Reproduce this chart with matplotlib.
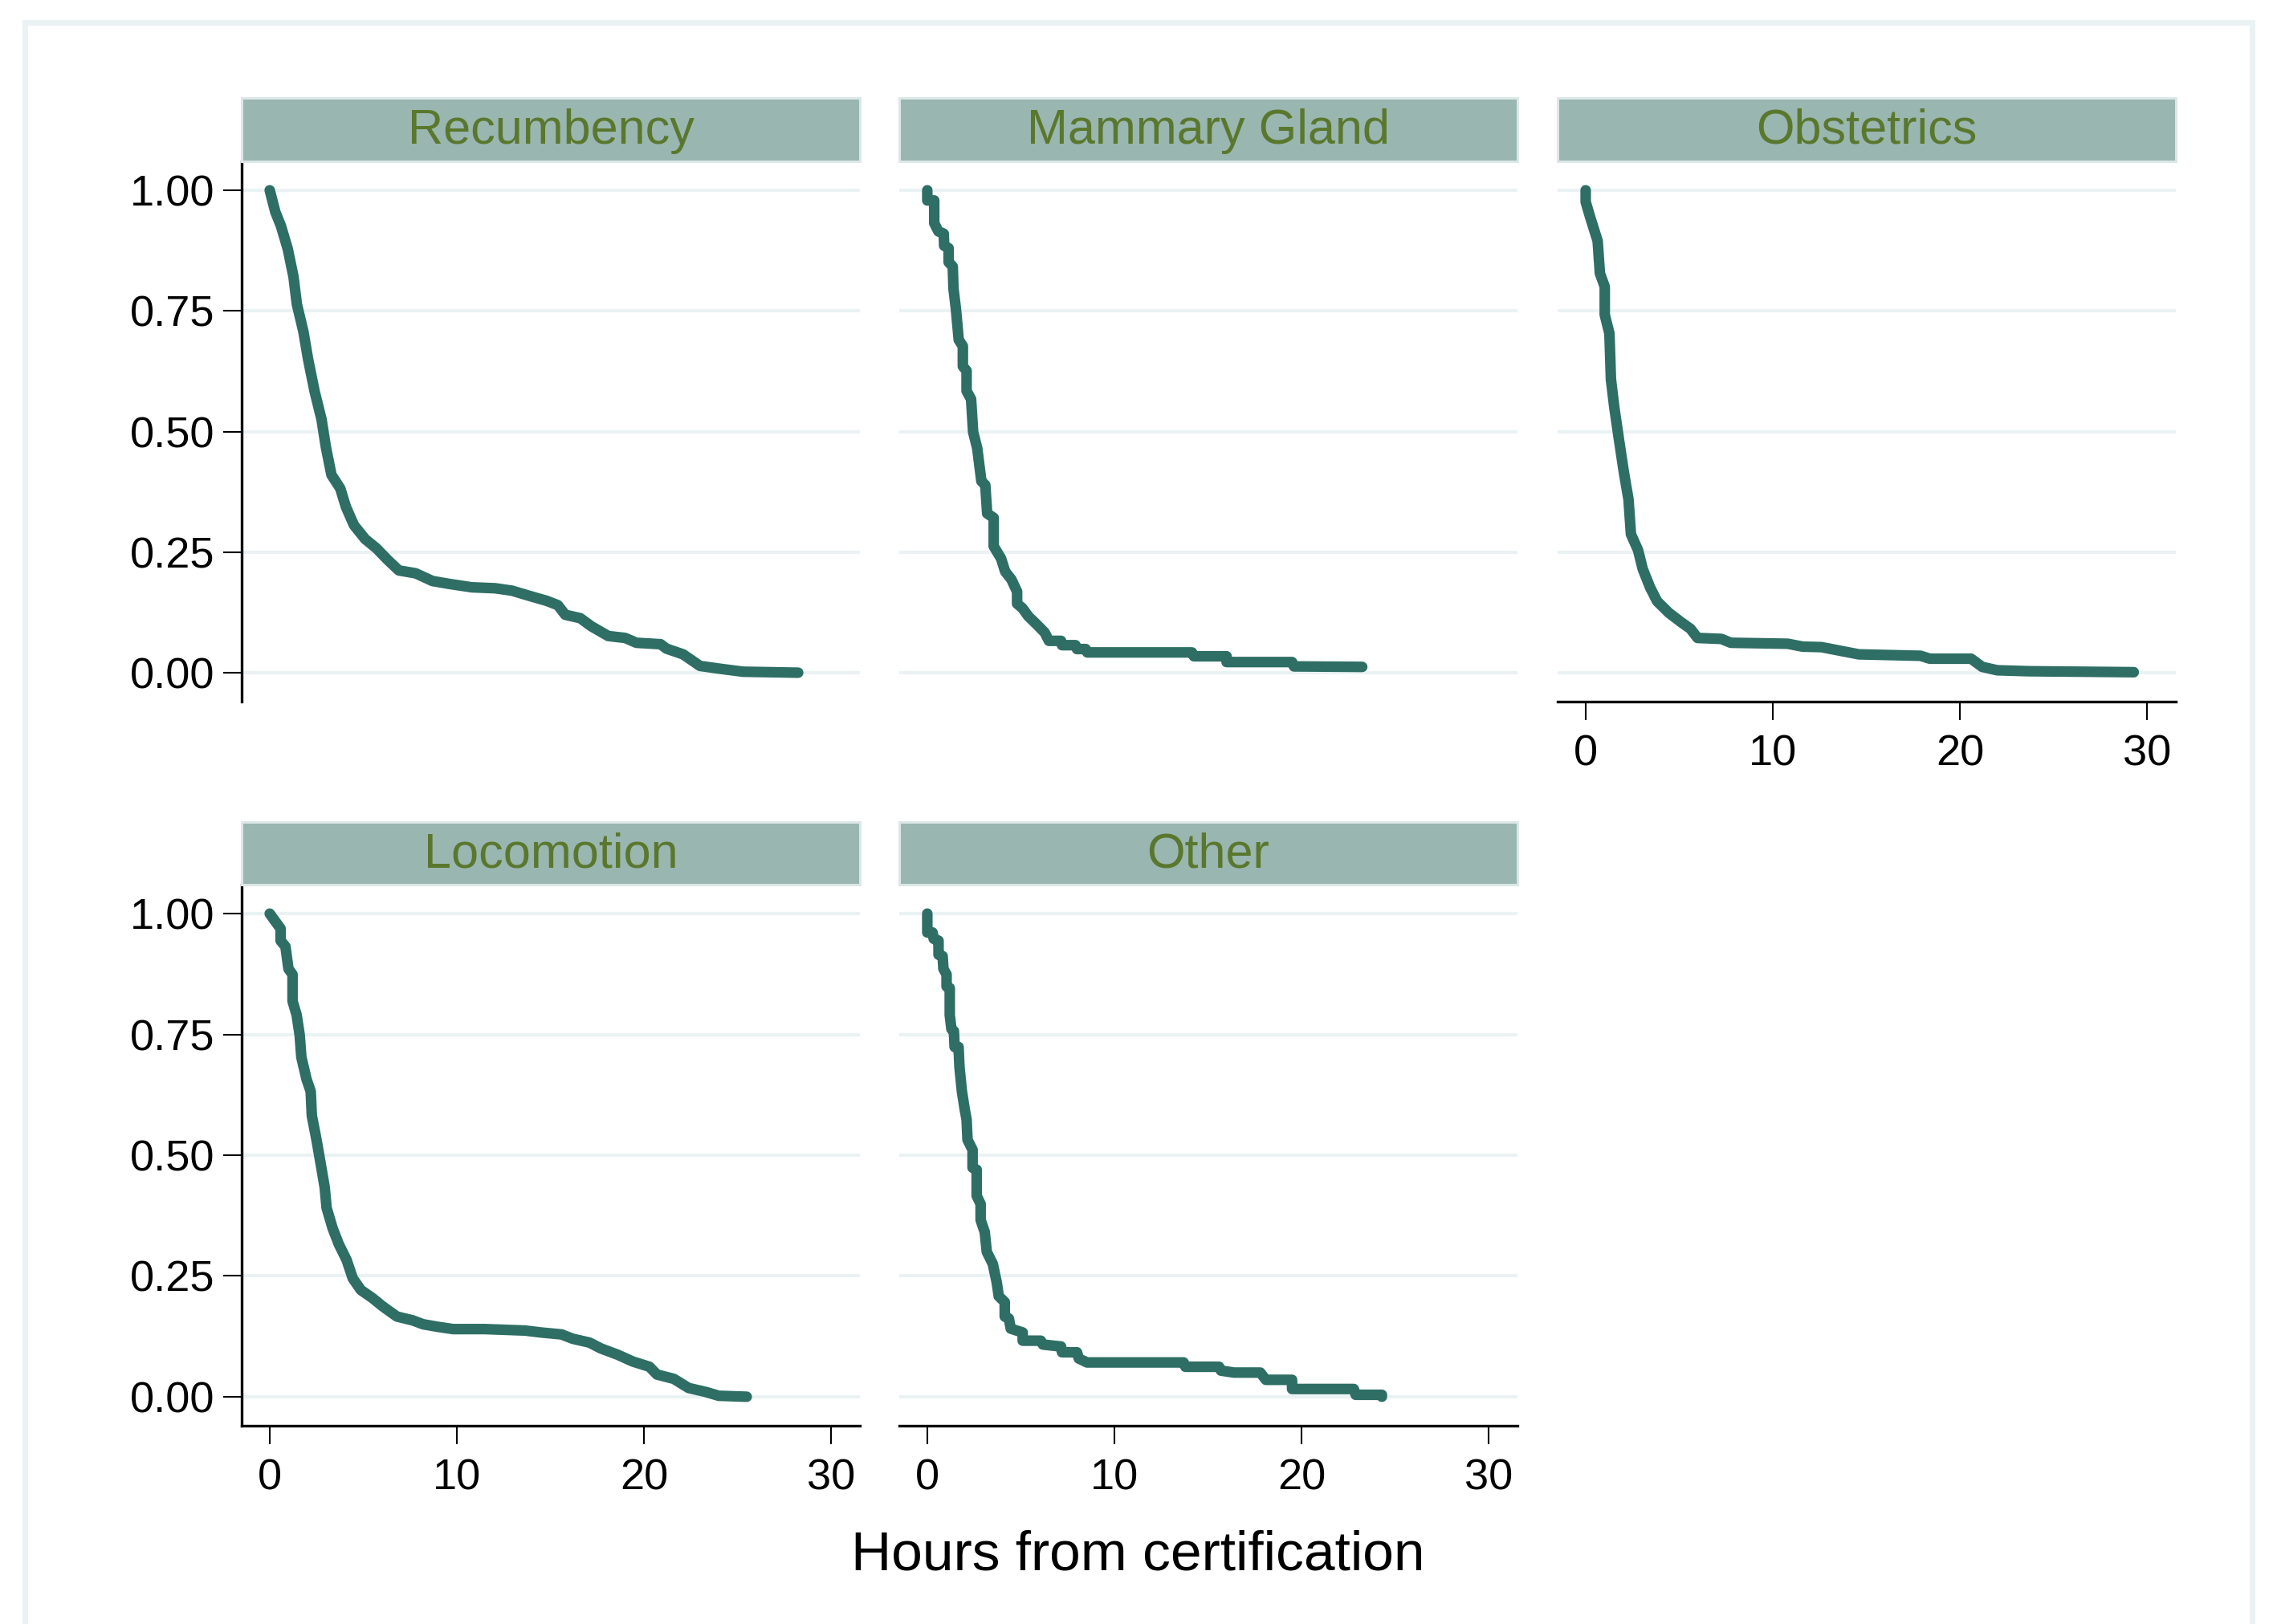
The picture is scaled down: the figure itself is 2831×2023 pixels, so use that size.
import matplotlib
matplotlib.use("Agg")
import matplotlib.pyplot as plt
from matplotlib.patches import Rectangle

plt.rcParams['font.family'] = ['Liberation Sans', 'DejaVu Sans']

# Kaplan-Meier estimates (hours, survival)
recumb_t = [0, 0.3, 0.6, 0.96, 1.27, 1.45, 1.8, 2.05, 2.4, 2.77, 3.0, 3.3, 3.77, 4.07, 4.5,
            5.1, 5.7, 6.3, 6.9, 7.8, 8.7, 9.6, 10.8, 12.05, 12.95, 13.9, 14.8, 15.4, 15.8,
            16.6, 17.2, 18.1, 19.0, 19.6, 20.9, 21.2, 22.1, 23.0, 24.1, 25.3, 28.25]
recumb_s = [1.0, 0.955, 0.926, 0.879, 0.821, 0.764, 0.707, 0.65, 0.583, 0.525, 0.468, 0.41,
            0.382, 0.344, 0.306, 0.277, 0.258, 0.234, 0.212, 0.206, 0.19, 0.184, 0.177, 0.175,
            0.17, 0.159, 0.149, 0.14, 0.12, 0.113, 0.096, 0.076, 0.072, 0.062, 0.059, 0.05,
            0.038, 0.014, 0.008, 0.002, 0.0]

mammary_t = [0, 0, 0.37, 0.37, 0.59, 0.88, 0.9, 1.14, 1.14, 1.36, 1.4, 1.53, 1.68, 1.9, 1.9,
             2.1, 2.1, 2.34, 2.45, 2.67, 2.89, 3.1, 3.2, 3.55, 3.55, 3.94, 4.16, 4.5, 4.8, 4.8,
             5.08, 5.4, 5.85, 6.28, 6.5, 7.15, 7.2, 7.92, 8.0, 8.47, 8.55, 14.15, 14.25, 16.0,
             16.0, 19.5, 19.6, 23.25]
mammary_s = [1.0, 0.979, 0.979, 0.932, 0.915, 0.91, 0.885, 0.88, 0.851, 0.842, 0.796, 0.754,
             0.69, 0.677, 0.635, 0.626, 0.584, 0.567, 0.499, 0.465, 0.397, 0.389, 0.33, 0.321,
             0.262, 0.237, 0.21, 0.193, 0.168, 0.143, 0.134, 0.117, 0.1, 0.083, 0.066, 0.066,
             0.057, 0.057, 0.049, 0.049, 0.042, 0.042, 0.034, 0.034, 0.022, 0.022, 0.013, 0.012]

obstet_t = [0, 0, 0.25, 0.64, 0.76, 1.02, 1.02, 1.27, 1.35, 1.53, 1.78, 2.04, 2.29, 2.42, 2.8,
            3.05, 3.44, 3.82, 4.45, 5.09, 5.6, 5.98, 7.25, 7.76, 10.8, 11.6, 12.6, 13.4, 14.6,
            17.9, 18.4, 20.6, 21.2, 22.0, 23.7, 29.3]
obstet_s = [1.0, 0.976, 0.943, 0.895, 0.828, 0.8, 0.742, 0.703, 0.608, 0.55, 0.483, 0.416,
            0.359, 0.287, 0.254, 0.215, 0.177, 0.148, 0.124, 0.105, 0.091, 0.072, 0.07, 0.062,
            0.06, 0.054, 0.053, 0.047, 0.038, 0.035, 0.029, 0.029, 0.012, 0.005, 0.003, 0.001]

locom_t = [0, 0.26, 0.58, 0.58, 0.84, 1.0, 1.22, 1.22, 1.44, 1.6, 1.69, 1.97, 2.19, 2.25, 2.5,
           2.72, 2.94, 3.04, 3.36, 3.69, 4.11, 4.44, 4.87, 5.5, 6.04, 6.8, 7.65, 8.2, 8.94, 9.8,
           11.5, 13.65, 14.5, 15.6, 16.2, 17.1, 17.7, 18.6, 19.4, 20.3, 20.7, 21.6, 22.4, 23.3,
           24.0, 25.5]
locom_s = [1.0, 0.986, 0.969, 0.944, 0.932, 0.886, 0.874, 0.819, 0.79, 0.749, 0.703, 0.657,
           0.632, 0.582, 0.532, 0.483, 0.433, 0.391, 0.349, 0.316, 0.283, 0.245, 0.221, 0.204,
           0.187, 0.166, 0.158, 0.15, 0.145, 0.14, 0.14, 0.137, 0.133, 0.129, 0.12, 0.112, 0.1,
           0.087, 0.073, 0.062, 0.046, 0.037, 0.018, 0.01, 0.002, 0.0]

other_t = [0, 0, 0.28, 0.34, 0.6, 0.6, 0.82, 0.86, 1.03, 1.03, 1.2, 1.2, 1.29, 1.42, 1.46, 1.67,
           1.72, 1.85, 2.0, 2.1, 2.15, 2.42, 2.42, 2.64, 2.64, 2.85, 2.85, 3.07, 3.18, 3.5, 3.71,
           3.82, 4.14, 4.14, 4.36, 4.46, 5.1, 5.1, 6.07, 6.18, 7.15, 7.2, 8.0, 8.1, 8.54, 13.7,
           13.8, 15.6, 15.7, 16.4, 17.8, 18.1, 19.5, 19.5, 22.8, 22.9, 24.3, 24.3]
other_s = [1.0, 0.961, 0.961, 0.948, 0.944, 0.915, 0.912, 0.886, 0.874, 0.849, 0.846, 0.79, 0.761,
           0.757, 0.724, 0.724, 0.682, 0.632, 0.595, 0.574, 0.532, 0.511, 0.474, 0.47, 0.416,
           0.399, 0.366, 0.341, 0.3, 0.275, 0.237, 0.208, 0.196, 0.166, 0.162, 0.141, 0.133,
           0.116, 0.116, 0.108, 0.104, 0.092, 0.092, 0.079, 0.071, 0.071, 0.062, 0.062, 0.054,
           0.05, 0.05, 0.035, 0.035, 0.016, 0.016, 0.004, 0.004, 0.0]

panel_names = ["Recumbency", "Mammary Gland", "Obstetrics", "Locomotion", "Other"]
panel_data = [(recumb_t, recumb_s), (mammary_t, mammary_s), (obstet_t, obstet_s),
              (locom_t, locom_s), (other_t, other_s)]
y_ticks = [0, 0.25, 0.5, 0.75, 1.0]
y_labels = ["0.00", "0.25", "0.50", "0.75", "1.00"]
x_ticks = [0, 10, 20, 30]
x_labels = ["0", "10", "20", "30"]

line_col = '#2e6e65'
grid_col = '#eaf2f3'
strip_col = '#99b6b0'
strip_edge = '#dce7e8'
strip_txt = '#5a782d'

W, H = 2831, 2023
fig = plt.figure(figsize=(W / 100, H / 100), dpi=100)
fig.patch.set_facecolor('white')


def rect(left, top, right, bottom):
    return [left / W, 1 - bottom / H, (right - left) / W, (bottom - top) / H]


# outer graph frame (runs off the bottom of the picture)
fig.patches.append(Rectangle((31.5 / W, -0.2), (2804.5 - 31.5) / W, 1 - 27.5 / H + 0.2,
                             transform=fig.transFigure, fill=False, ec=grid_col, lw=5))

col_left = [301, 1120, 1940]
col_w = 770
rows = [(122, 201, 874), (1024, 1102, 1776)]
# (column, row, y axis shown, x axis shown)
layout = [(0, 0, True, False), (1, 0, False, False), (2, 0, False, True),
          (0, 1, True, True), (1, 1, False, True)]

for name, (t, s), (c, r, show_y, show_x) in zip(panel_names, panel_data, layout):
    left = col_left[c]
    s_top, a_top, a_bot = rows[r]

    ax = fig.add_axes(rect(left, a_top, left + col_w, a_bot))
    ax.set_xlim(-1.5, 31.55)
    ax.set_ylim(-0.06, 1.06)
    ax.set_yticks(y_ticks)
    ax.set_xticks(x_ticks)
    ax.yaxis.grid(True, color=grid_col, lw=3.0)
    ax.set_axisbelow(True)
    for sp in ['top', 'right']:
        ax.spines[sp].set_visible(False)
    ax.spines['left'].set_visible(show_y)
    ax.spines['bottom'].set_visible(show_x)
    ax.spines['left'].set_linewidth(2.4)
    ax.spines['bottom'].set_linewidth(2.4)
    ax.tick_params(axis='both', length=16.5, width=1.5, labelsize=39, color='black')
    ax.tick_params(axis='y', pad=8)
    ax.tick_params(axis='x', pad=13)
    if show_y:
        ax.set_yticklabels(y_labels)
    else:
        ax.tick_params(axis='y', left=False, labelleft=False)
    if show_x:
        ax.set_xticklabels(x_labels)
    else:
        ax.tick_params(axis='x', bottom=False, labelbottom=False)

    ax.plot(t, s, color=line_col, lw=9.5, solid_joinstyle='round',
            solid_capstyle='round', clip_on=False)

    sax = fig.add_axes(rect(left, s_top, left + col_w, a_top))
    sax.set_facecolor(strip_col)
    sax.set_xticks([])
    sax.set_yticks([])
    for sp in sax.spines.values():
        sp.set_color(strip_edge)
        sp.set_linewidth(2.2)
    sax.text(0.5, 0.28, name, transform=sax.transAxes, ha='center', va='baseline',
             fontsize=44, color=strip_txt)

fig.text(1417 / W, 1 - 1956 / H, "Hours from certification", ha='center', va='baseline',
         fontsize=50, color='black')

fig.savefig("out.png", dpi=100)
